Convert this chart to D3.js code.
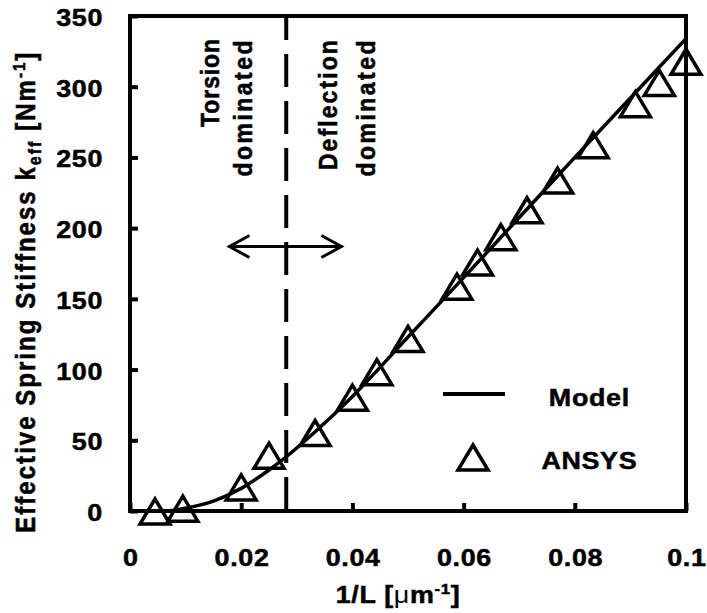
<!DOCTYPE html>
<html>
<head>
<meta charset="utf-8">
<script src="https://cdn.jsdelivr.net/npm/d3@7"></script>
<style>
  body { margin: 0; background: #fff; }
  svg text { font-family: "Liberation Sans", Arial, Helvetica, sans-serif; font-weight: bold; fill: #000; stroke: #000; stroke-width: 0.5px; }
</style>
</head>
<body>
<svg id="chart" width="707" height="613"></svg>
<script>
// ANSYS simulation results: 1/L [1/um] vs k_eff [N/m]
const ansysX = [0.0045, 0.0095, 0.02, 0.025, 0.0333, 0.04, 0.0444, 0.05, 0.0588, 0.0625, 0.0667, 0.0714, 0.0769, 0.0833, 0.0909, 0.0952, 0.1];
const ansysY = [0, 2, 17, 39.5, 55.5, 80.5, 98.5, 122, 159, 176, 194, 213, 234, 259, 288, 303, 318];

// Analytical model curve
const modelX = [0.007, 0.01, 0.015, 0.02, 0.025, 0.028, 0.0333, 0.04, 0.05, 0.06, 0.07, 0.08, 0.09, 0.1];
const modelY = [0, 2, 7, 16, 29, 38, 56, 81, 123, 165, 207.5, 250, 292, 334];

// Axis ticks
const xTicks = [0, 0.02, 0.04, 0.06, 0.08, 0.1];
const xTickLabels = ["0", "0.02", "0.04", "0.06", "0.08", "0.1"];
const yTicks = [0, 50, 100, 150, 200, 250, 300, 350];
const yTickLabels = ["0", "50", "100", "150", "200", "250", "300", "350"];

// Regime boundary and the double arrow around it
const boundaryX = 0.0281;
const arrowX = [0.0177, 0.0382];
const arrowY = 187;

const seriesNames = ["Model", "ANSYS"];

const svg = d3.select("#chart");
const x = d3.scaleLinear().domain([0, 0.1]).range([130, 686]);
const y = d3.scaleLinear().domain([0, 350]).range([511, 16]);

const SX = 1.12;   // horizontal widening of the bold lettering
const LS = 0.6;    // letter spacing of the bold lettering

// spread the letters of a text so that it spans the given length
function fitLength(sel, target) {
  const node = sel.node();
  sel.attr("letter-spacing", 0);
  const w = node.getComputedTextLength();
  const n = node.getNumberOfChars();
  sel.attr("letter-spacing", (target - w) / (n - 1));
}

// axes (ticks point inward, labels outside)
const gy = svg.append("g").attr("transform", `translate(${x(0)},0)`)
  .call(d3.axisLeft(y).tickValues(yTicks).tickFormat((d, i) => yTickLabels[i])
    .tickSizeInner(-8).tickSizeOuter(0).tickPadding(24));
gy.select(".domain").remove();
gy.selectAll(".tick line").attr("stroke", "#000").attr("stroke-width", 4);
gy.selectAll(".tick text").attr("font-size", 24).attr("letter-spacing", LS)
  .attr("x", -27 / SX).attr("dy", 9.5).attr("transform", `scale(${SX},1)`);

const gx = svg.append("g").attr("transform", `translate(0,${y(0)})`)
  .call(d3.axisBottom(x).tickValues(xTicks).tickFormat((d, i) => xTickLabels[i])
    .tickSizeInner(-8).tickSizeOuter(0).tickPadding(10));
gx.select(".domain").remove();
gx.selectAll(".tick line").attr("stroke", "#000").attr("stroke-width", 4);
gx.selectAll(".tick text").attr("font-size", 24).attr("letter-spacing", LS)
  .attr("y", 55).attr("dy", 0).attr("dx", LS / 2).attr("transform", `scale(${SX},1)`);

// plot frame
svg.append("rect")
  .attr("x", x(0)).attr("y", y(350))
  .attr("width", x(0.1) - x(0)).attr("height", y(0) - y(350))
  .attr("fill", "none").attr("stroke", "#000").attr("stroke-width", 4);

// regime boundary
svg.append("line")
  .attr("x1", x(boundaryX)).attr("x2", x(boundaryX))
  .attr("y1", y(350)).attr("y2", y(0))
  .attr("stroke", "#000").attr("stroke-width", 4)
  .attr("stroke-dasharray", "33,14").attr("stroke-dashoffset", 9);

// double-headed arrow
const ay = y(arrowY), ax0 = x(arrowX[0]), ax1 = x(arrowX[1]);
const arrow = svg.append("g").attr("fill", "none").attr("stroke", "#000")
  .attr("stroke-width", 3).attr("stroke-linecap", "butt");
arrow.append("line").attr("x1", ax0).attr("x2", ax1).attr("y1", ay).attr("y2", ay);
arrow.append("path").attr("d", `M${ax0 + 21},${ay - 11}L${ax0 + 1},${ay}L${ax0 + 21},${ay + 11}`);
arrow.append("path").attr("d", `M${ax1 - 21},${ay - 11}L${ax1 - 1},${ay}L${ax1 - 21},${ay + 11}`);

// regime labels
function vtext(px, py, str, target) {
  const t = svg.append("text")
    .attr("transform", `translate(${px},${py}) scale(${SX},1) rotate(-90)`)
    .attr("text-anchor", "end").attr("font-size", 23).text(str);
  fitLength(t, target);
  return t;
}
vtext(219, 38, "Torsion", 88);
vtext(252, 38, "dominated", 136);
vtext(337, 38, "Deflection", 130);
vtext(375, 38, "dominated", 136);

// model curve
const modelData = modelX.map((d, i) => [d, modelY[i]]);
svg.append("path")
  .datum(modelData)
  .attr("fill", "none").attr("stroke", "#000").attr("stroke-width", 3.5)
  .attr("d", d3.line().x(d => x(d[0])).y(d => y(d[1])).curve(d3.curveMonotoneX));

// ANSYS markers
const tri = "M0,-12L15,13L-15,13Z";
svg.append("g").selectAll("path")
  .data(ansysX.map((d, i) => [d, ansysY[i]]))
  .join("path")
  .attr("transform", d => `translate(${x(d[0])},${y(d[1])})`)
  .attr("d", tri)
  .attr("fill", "none").attr("stroke", "#000").attr("stroke-width", 3.5)
  .attr("stroke-linejoin", "miter");

// legend
const lg = svg.append("g");
lg.append("line").attr("x1", 443).attr("x2", 505).attr("y1", 394).attr("y2", 394)
  .attr("stroke", "#000").attr("stroke-width", 4);
lg.append("path").attr("transform", "translate(473,457)").attr("d", tri)
  .attr("fill", "none").attr("stroke", "#000").attr("stroke-width", 3.5);
seriesNames.forEach((name, i) => {
  lg.append("text")
    .attr("transform", `translate(589,${i === 0 ? 405.5 : 468.5}) scale(${SX},1)`)
    .attr("text-anchor", "middle").attr("dx", LS / 2)
    .attr("font-size", 24).attr("letter-spacing", LS).text(name);
});

// axis titles
const xt = svg.append("text")
  .attr("transform", `translate(398,603) scale(${SX},1)`)
  .attr("text-anchor", "middle").attr("font-size", 24);
xt.append("tspan").text("1/L [");
xt.append("tspan").style("font-weight", "normal").style("stroke-width", "0px").text("\u03bc");
xt.append("tspan").text("m");
xt.append("tspan").attr("font-size", 15).attr("dy", -9).text("-1");
xt.append("tspan").attr("dy", 9).text("]");
fitLength(xt, 124 / SX);

const yt = svg.append("text")
  .attr("transform", `translate(35,291.7) scale(${SX},1) rotate(-90)`)
  .attr("text-anchor", "middle").attr("font-size", 24);
yt.append("tspan").text("Effective Spring Stiffness  k");
yt.append("tspan").attr("font-size", 16).attr("dy", 5).text("eff");
yt.append("tspan").attr("dy", -5).text(" [Nm");
yt.append("tspan").attr("font-size", 15).attr("dy", -9).text("-1");
yt.append("tspan").attr("dy", 9).text("]");
fitLength(yt, 480);
</script>
</body>
</html>
